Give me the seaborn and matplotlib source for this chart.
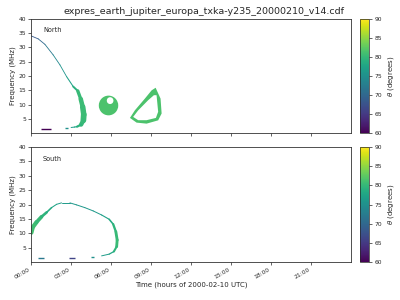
import numpy as np
import matplotlib
matplotlib.use("Agg")
import matplotlib.pyplot as plt
import seaborn as sns
from matplotlib.collections import LineCollection
from matplotlib.patches import Ellipse, PathPatch
from matplotlib.path import Path
import matplotlib.colors as mcolors
import matplotlib.cm as cm

# ---------------- data (time in hours, frequency in MHz, theta in degrees) ----------------
title = "expres_earth_jupiter_europa_txka-y235_20000210_v14.cdf"
tick_hours = [0, 3, 6, 9, 12, 15, 18, 21]
tick_labels = ["00:00", "03:00", "06:00", "09:00", "12:00", "15:00", "18:00", "21:00"]
freq_ticks = [5, 10, 15, 20, 25, 30, 35, 40]
cbar_ticks = [60, 65, 70, 75, 80, 85, 90]

# North main arc
north_t = [0.00, 0.53, 1.03, 1.65, 2.16, 2.66, 3.16, 3.50, 3.72, 3.87, 3.95, 3.92, 3.75, 3.45, 3.25, 3.00]
north_f = [34.05, 33.0, 31.1, 27.4, 23.9, 19.8, 16.3, 14.8, 12.0, 9.2, 6.5, 4.5, 3.0, 2.3, 2.15, 2.0]
north_theta = [68, 69, 71, 73, 75, 76, 78, 80, 80.5, 80.5, 80.5, 80.5, 80, 79, 77, 76]
north_w = [0.6, 0.6, 0.6, 0.6, 0.6, 0.6, 0.9, 1.9, 2.9, 3.6, 4.3, 4.0, 2.2, 1.0, 0.7, 0.7]

# North short dashes (t_start, t_end, freq, theta)
north_dash_t0 = [0.70, 2.55]
north_dash_t1 = [1.46, 2.75]
north_dash_f = [1.5, 1.75]
north_dash_theta = [60, 75]

# North disk with hole
disk_t, disk_f, disk_dt, disk_df, disk_theta = 5.81, 9.7, 1.46, 6.9, 81.5
hole_t, hole_f, hole_dt, hole_df = 5.93, 11.4, 0.50, 2.4

# North loop (outer and inner outline)
loop_out_t = [9.35, 9.72, 9.80, 9.54, 8.67, 7.92, 7.42, 7.79, 8.54, 9.05]
loop_out_f = [15.9, 12.1, 6.9, 4.5, 3.35, 3.7, 5.35, 8.0, 12.1, 15.0]
loop_in_t = [9.42, 9.54, 9.37, 8.67, 8.04, 7.66, 8.04, 8.79, 9.22]
loop_in_f = [13.3, 7.5, 5.35, 4.55, 4.55, 5.7, 8.0, 11.55, 13.3]
loop_theta = 81.5

# South arc
south_t = [0.03, 0.15, 0.40, 0.78, 1.16, 1.53, 1.91, 2.28, 2.91, 3.41, 4.03, 4.66, 5.29, 5.86,
           6.16, 6.36, 6.46, 6.42, 6.21, 5.86, 5.29]
south_f = [10.2, 12.35, 13.9, 15.8, 17.3, 18.95, 20.1, 20.6, 20.6, 19.9, 18.95, 17.8, 16.4, 14.9,
           13.2, 10.6, 7.7, 5.4, 3.7, 2.8, 2.2]
south_theta = [81, 81, 80.5, 80, 79, 78, 77, 76.5, 76, 76, 76, 76, 76.5, 77.5,
               79, 80, 80.5, 80.5, 79, 77, 76]
south_w = [2.4, 3.0, 3.0, 2.3, 1.5, 0.8, 0.7, 0.7, 0.7, 0.7, 0.7, 0.7, 0.7, 0.9,
           1.4, 1.9, 2.2, 1.9, 1.1, 0.7, 0.7]

south_dash_t0 = [0.48, 2.83, 4.50]
south_dash_t1 = [0.98, 3.28, 4.75]
south_dash_f = [1.4, 1.4, 1.8]
south_dash_theta = [72, 66, 75]

# ---------------- style ----------------
sns.set_style("ticks")
plt.rcParams["font.family"] = ["DejaVu Sans"]
cmap = plt.get_cmap("viridis")
norm = mcolors.Normalize(vmin=60, vmax=90)

fig = plt.figure(figsize=(4, 3), dpi=100)
ax1 = fig.add_axes([0.078, 0.556, 0.7985, 0.381])
ax2 = fig.add_axes([0.078, 0.126, 0.7985, 0.384])
cax1 = fig.add_axes([0.900, 0.556, 0.0225, 0.381])
cax2 = fig.add_axes([0.900, 0.126, 0.0225, 0.384])


def arc(ax, t, f, th, w):
    pts = np.column_stack([t, f])
    segs = np.stack([pts[:-1], pts[1:]], axis=1)
    th = np.asarray(th, float)
    cols = cmap(norm((th[:-1] + th[1:]) / 2))
    ww = np.asarray(w, float)
    lc = LineCollection(segs, colors=cols, linewidths=(ww[:-1] + ww[1:]) / 2,
                        capstyle="round", joinstyle="round")
    ax.add_collection(lc)


def dashes(ax, t0, t1, f, th):
    for a, b, ff, tt in zip(t0, t1, f, th):
        sns.lineplot(x=[a, b], y=[ff, ff], ax=ax, color=cmap(norm(tt)), lw=1.0,
                     solid_capstyle="butt")


# North panel
arc(ax1, north_t, north_f, north_theta, north_w)
dashes(ax1, north_dash_t0, north_dash_t1, north_dash_f, north_dash_theta)
ax1.add_patch(Ellipse((disk_t, disk_f), disk_dt, disk_df, facecolor=cmap(norm(disk_theta)),
                      edgecolor="none"))
ax1.add_patch(Ellipse((hole_t, hole_f), hole_dt, hole_df, facecolor="white", edgecolor="none"))
outer = list(zip(loop_out_t, loop_out_f))
inner = list(zip(loop_in_t, loop_in_f))[::-1]
verts = outer + [outer[0]] + inner + [inner[0]]
codes = ([Path.MOVETO] + [Path.LINETO] * (len(outer) - 1) + [Path.CLOSEPOLY]
         + [Path.MOVETO] + [Path.LINETO] * (len(inner) - 1) + [Path.CLOSEPOLY])
ax1.add_patch(PathPatch(Path(verts, codes), facecolor=cmap(norm(loop_theta)), edgecolor="none"))

# South panel
arc(ax2, south_t, south_f, south_theta, south_w)
dashes(ax2, south_dash_t0, south_dash_t1, south_dash_f, south_dash_theta)

for ax, name in [(ax1, "North"), (ax2, "South")]:
    ax.set_xlim(0, 24)
    ax.set_ylim(0, 40)
    ax.set_yticks(freq_ticks)
    ax.set_xticks(tick_hours)
    ax.set_ylabel("Frequency (MHz)", fontsize=5, labelpad=2)
    ax.tick_params(labelsize=4.3, length=2.2, width=0.5, pad=1.5)
    for s in ax.spines.values():
        s.set_linewidth(0.6)
        s.set_color("#333333")
        s.set_visible(True)
    ax.text(0.037, 0.9, name, transform=ax.transAxes, fontsize=4.7, va="center")

ax1.set_xticklabels([])
ax2.set_xticklabels(tick_labels, rotation=30, ha="right")
ax2.set_xlabel("Time (hours of 2000-02-10 UTC)", fontsize=5, labelpad=1)
fig.text(0.51, 0.963, title, fontsize=6.8, ha="center", va="center")

for cax in (cax1, cax2):
    sm = cm.ScalarMappable(norm=norm, cmap=cmap)
    cb = fig.colorbar(sm, cax=cax, ticks=cbar_ticks)
    cb.set_label(r"$\theta$ (degrees)", fontsize=5, labelpad=3)
    cb.ax.tick_params(labelsize=4.3, length=2.2, width=0.5, pad=1.5)
    cb.outline.set_linewidth(0.5)

fig.savefig("out.png", dpi=100)
